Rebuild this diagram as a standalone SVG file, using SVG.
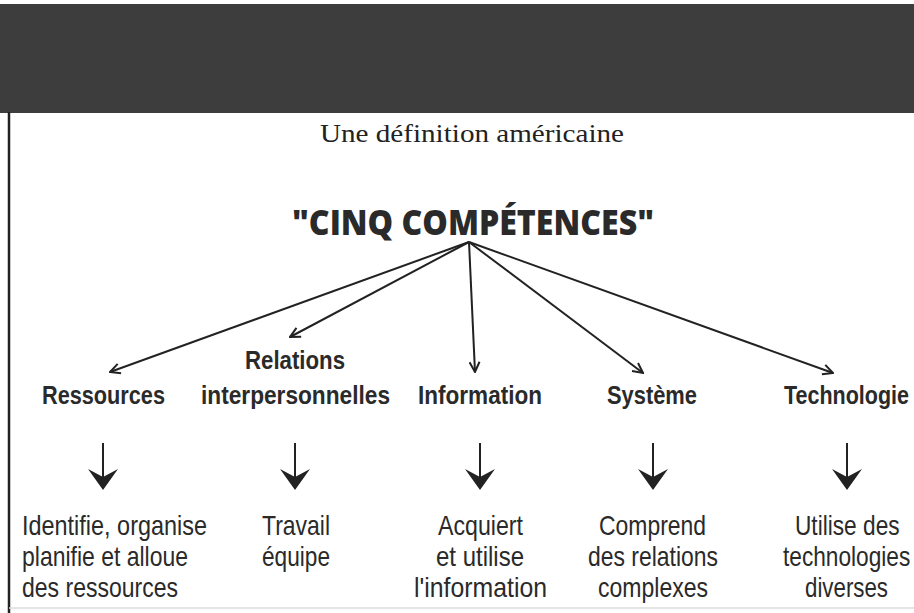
<svg xmlns="http://www.w3.org/2000/svg" width="914" height="613" viewBox="0 0 914 613">
<defs>
<style>
.band{fill:#3d3d3d}
.serif{font-family:"Liberation Serif","Times New Roman",serif;font-size:25px;fill:#222}
.title{font-family:"Open Sans","DejaVu Sans",sans-serif;font-weight:800;font-size:36px;fill:#2a2a2a}
.lbl{font-family:"Liberation Sans",Arial,sans-serif;font-weight:bold;font-size:25px;fill:#2a2a2a}
.desc{font-family:"Liberation Sans",Arial,sans-serif;font-size:28px;fill:#2a2a2a}
.conn{stroke:#222;stroke-width:2;fill:none}
.head{fill:#222}
</style>
<marker id="open" viewBox="0 0 12 12" refX="11" refY="6" markerWidth="12" markerHeight="12" markerUnits="userSpaceOnUse" orient="auto">
<path d="M1,1 L11,6 L1,11" fill="none" stroke="#222" stroke-width="2"/>
</marker>
</defs>
<rect width="914" height="613" fill="#fff"/>
<rect class="band" x="0" y="4" width="914" height="109"/>
<line x1="9" y1="112" x2="9" y2="613" stroke="#222" stroke-width="2.5"/>
<line x1="9" y1="608" x2="914" y2="608" stroke="#ddd" stroke-width="1.5"/>

<text class="serif" x="320" y="142" textLength="304" lengthAdjust="spacingAndGlyphs">Une définition américaine</text>

<g id="root">
<text class="title" x="292" y="235" textLength="362" lengthAdjust="spacingAndGlyphs">"CINQ COMPÉTENCES"</text>
</g>

<g id="connectors">
<line class="conn" x1="469" y1="242" x2="110" y2="372" marker-end="url(#open)"/>
<line class="conn" x1="469" y1="242" x2="290" y2="337" marker-end="url(#open)"/>
<line class="conn" x1="469" y1="242" x2="475" y2="372" marker-end="url(#open)"/>
<line class="conn" x1="469" y1="242" x2="643" y2="373" marker-end="url(#open)"/>
<line class="conn" x1="469" y1="242" x2="833" y2="373" marker-end="url(#open)"/>
<line class="conn" x1="103" y1="443" x2="103" y2="480"/>
<path class="head" d="M88,469 L103,490 L118,469 L103,477 Z"/>
<line class="conn" x1="295" y1="443" x2="295" y2="480"/>
<path class="head" d="M280,469 L295,490 L310,469 L295,477 Z"/>
<line class="conn" x1="480" y1="443" x2="480" y2="480"/>
<path class="head" d="M465,469 L480,490 L495,469 L480,477 Z"/>
<line class="conn" x1="653" y1="443" x2="653" y2="480"/>
<path class="head" d="M638,469 L653,490 L668,469 L653,477 Z"/>
<line class="conn" x1="847" y1="443" x2="847" y2="480"/>
<path class="head" d="M832,469 L847,490 L862,469 L847,477 Z"/>
</g>

<g id="ressources">
<text class="lbl" x="42" y="404" textLength="123" lengthAdjust="spacingAndGlyphs">Ressources</text>
</g>
<g id="relations">
<text class="lbl" x="245" y="369" textLength="100" lengthAdjust="spacingAndGlyphs">Relations</text>
<text class="lbl" x="201" y="404" textLength="189" lengthAdjust="spacingAndGlyphs">interpersonnelles</text>
</g>
<g id="information">
<text class="lbl" x="418" y="404" textLength="124" lengthAdjust="spacingAndGlyphs">Information</text>
</g>
<g id="systeme">
<text class="lbl" x="607" y="404" textLength="90" lengthAdjust="spacingAndGlyphs">Système</text>
</g>
<g id="technologie">
<text class="lbl" transform="translate(784,404) scale(0.86,1)">Technologie</text>
</g>

<g id="desc-ressources">
<text class="desc" x="22" y="535" textLength="185" lengthAdjust="spacingAndGlyphs">Identifie, organise</text>
<text class="desc" x="22" y="566" textLength="166" lengthAdjust="spacingAndGlyphs">planifie et alloue</text>
<text class="desc" x="22" y="597" textLength="156" lengthAdjust="spacingAndGlyphs">des ressources</text>
</g>
<g id="desc-relations">
<text class="desc" x="262" y="535" textLength="68" lengthAdjust="spacingAndGlyphs">Travail</text>
<text class="desc" x="262" y="566" textLength="68" lengthAdjust="spacingAndGlyphs">équipe</text>
</g>
<g id="desc-information">
<text class="desc" x="438" y="535" textLength="85" lengthAdjust="spacingAndGlyphs">Acquiert</text>
<text class="desc" x="436" y="566" textLength="88" lengthAdjust="spacingAndGlyphs">et utilise</text>
<text class="desc" x="414" y="597" textLength="133" lengthAdjust="spacingAndGlyphs">l'information</text>
</g>
<g id="desc-systeme">
<text class="desc" x="599" y="535" textLength="107" lengthAdjust="spacingAndGlyphs">Comprend</text>
<text class="desc" x="588" y="566" textLength="130" lengthAdjust="spacingAndGlyphs">des relations</text>
<text class="desc" x="598" y="597" textLength="110" lengthAdjust="spacingAndGlyphs">complexes</text>
</g>
<g id="desc-technologie">
<text class="desc" transform="translate(795,535) scale(0.81,1)">Utilise des</text>
<text class="desc" transform="translate(783,566) scale(0.81,1)">technologies</text>
<text class="desc" x="805" y="597" textLength="83" lengthAdjust="spacingAndGlyphs">diverses</text>
</g>
</svg>
